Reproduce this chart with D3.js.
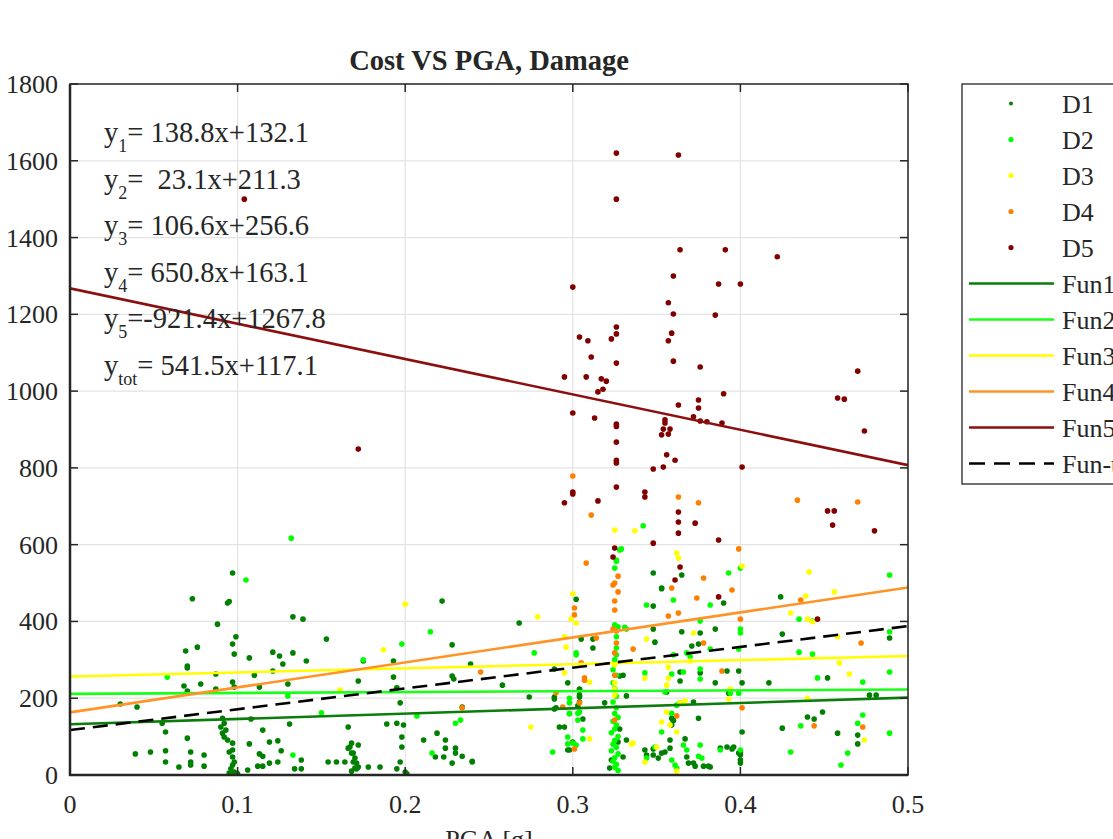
<!DOCTYPE html>
<html><head><meta charset="utf-8">
<script src="https://cdn.jsdelivr.net/npm/d3@7"></script>
<style>
html,body{margin:0;padding:0;background:#fff;}
svg{display:block;}
text{font-family:"Liberation Serif","Times New Roman",serif;fill:#262626;}
.pre{white-space:pre;}
</style></head>
<body>
<svg id="chart" width="1113" height="839"></svg>
<script>
// ---------- data ----------
const title = "Cost VS PGA, Damage";
const xLabel = "PGA [g]";
const xTicks = [0, 0.1, 0.2, 0.3, 0.4, 0.5];
const yTicks = [0, 200, 400, 600, 800, 1000, 1200, 1400, 1600, 1800];
const seriesNames = ["D1", "D2", "D3", "D4", "D5"];
const fitNames = ["Fun1", "Fun2", "Fun3", "Fun4", "Fun5", "Fun-tot"];
const fitSlopes = [138.8, 23.1, 106.6, 650.8, -921.4, 541.5];
const fitIntercepts = [132.1, 211.3, 256.6, 163.1, 1267.8, 117.1];
const eqSubs = ["1", "2", "3", "4", "5", "tot"];
const eqTexts = ["= 138.8x+132.1", "=  23.1x+211.3", "= 106.6x+256.6", "= 650.8x+163.1", "=-921.4x+1267.8", "= 541.5x+117.1"];

const D1 = [[0.097,526],[0.073,459],[0.094,448],[0.095,452],[0.088,393],[0.133,412],[0.139,406],[0.099,360],[0.153,354],[0.097,341],[0.069,323],[0.076,333],[0.098,315],[0.107,305],[0.121,320],[0.125,310],[0.127,289],[0.141,297],[0.070,284],[0.070,279],[0.087,263],[0.068,232],[0.078,237],[0.097,242],[0.098,229],[0.110,260],[0.121,271],[0.130,237],[0.113,229],[0.087,224],[0.070,219],[0.040,177],[0.030,185],[0.055,135],[0.057,112],
[0.091,148],[0.092,135],[0.090,125],[0.093,117],[0.091,109],[0.092,99],[0.094,91],[0.097,83],[0.097,65],[0.095,60],[0.097,47],[0.098,34],[0.097,26],[0.096,16],[0.098,8],[0.100,3],[0.095,5],
[0.108,146],[0.115,117],[0.107,81],[0.119,86],[0.124,89],[0.126,63],[0.113,55],[0.115,49],[0.119,31],[0.124,34],[0.112,23],[0.115,23],[0.106,13],[0.039,55],[0.048,60],[0.057,63],[0.057,34],[0.070,96],[0.072,60],[0.072,34],[0.072,26],[0.080,52],[0.080,23],[0.065,21],[0.138,39],[0.134,16],[0.138,16],
[0.154,34],[0.159,34],[0.164,34],[0.169,34],[0.169,57],[0.167,73],[0.168,83],[0.172,78],[0.170,18],[0.168,10],[0.172,245],[0.166,125],[0.166,70],[0.168,57],[0.170,44],[0.171,31],[0.172,21],[0.171,16],
[0.222,453],[0.228,339],[0.133,318],[0.175,297],[0.193,297],[0.193,255],[0.195,227],[0.239,289],[0.228,258],[0.229,250],[0.197,188],[0.234,177],[0.131,133],[0.189,133],[0.195,135],[0.199,130],[0.198,99],[0.198,73],[0.197,34],[0.195,16],[0.211,91],[0.219,109],[0.224,91],[0.230,70],[0.230,57],[0.234,49],[0.240,36],[0.224,70],[0.223,47],[0.218,47],[0.228,31],[0.185,21],[0.178,21],[0.200,8],[0.201,3],
[0.258,234],[0.268,396],[0.274,203],[0.240,34],[0.289,203],[0.290,175],[0.292,125],[0.297,65],[0.297,240],[0.302,458],[0.312,331],[0.304,221],[0.304,203],[0.303,180],[0.306,146],[0.289,276],[0.289,198],[0.289,172],[0.304,224],[0.304,208],[0.304,190],[0.295,125],[0.298,65],[0.300,86],[0.312,354],[0.305,354],[0.319,188],[0.328,258],[0.332,206],[0.332,91],[0.330,47],[0.327,86],[0.323,39],[0.322,18],[0.330,260],[0.328,120],
[0.348,440],[0.348,526],[0.353,485],[0.390,448],[0.424,464],[0.425,367],[0.365,373],[0.376,370],[0.385,380],[0.349,346],[0.371,336],[0.375,341],[0.489,357],[0.452,253],[0.417,240],[0.401,240],[0.385,240],[0.392,271],[0.399,271],[0.376,266],[0.364,245],[0.364,268],[0.356,216],[0.372,190],[0.393,213],[0.477,208],[0.481,208],[0.449,164],[0.440,151],[0.444,146],[0.425,122],[0.458,109],[0.470,104],[0.470,81],[0.375,148],[0.359,148],[0.360,141],[0.359,130],[0.358,91],[0.358,70],[0.367,94],[0.353,57],[0.351,44],[0.348,52],[0.343,65],[0.344,52],[0.369,31],[0.373,23],[0.381,23],[0.388,70],[0.392,73],[0.395,68],[0.399,57],[0.400,39],[0.400,31],[0.401,112],[0.400,60],[0.400,52],[0.396,73],[0.365,521],[0.353,487],[0.348,380],[0.364,188],[0.360,143],[0.348,68],[0.355,60],[0.368,47],[0.372,31],[0.378,23],[0.382,21]];

const D2 = [[0.132,617],[0.105,508],[0.058,255],[0.130,206],[0.133,52],[0.150,162],[0.175,300],[0.215,373],[0.198,341],[0.207,154],[0.216,57],[0.233,143],[0.230,135],[0.277,318],[0.288,60],[0.298,200],[0.298,161],[0.302,318],[0.303,161],[0.303,143],[0.300,83],[0.302,78],[0.306,117],[0.306,94],[0.297,99],[0.297,81],[0.302,313],[0.298,188],[0.304,164],[0.298,159],
[0.325,391],[0.327,386],[0.326,360],[0.326,331],[0.326,313],[0.325,300],[0.324,274],[0.326,260],[0.324,240],[0.325,225],[0.326,205],[0.324,190],[0.326,175],[0.325,160],[0.327,150],[0.324,140],[0.326,130],[0.325,120],[0.323,110],[0.327,100],[0.325,90],[0.324,80],[0.326,72],[0.323,63],[0.327,55],[0.325,45],[0.324,36],[0.326,28],[0.325,20],[0.327,12],[0.329,589],[0.325,539],[0.326,557],[0.342,649],[0.331,385],[0.344,443],[0.360,456],[0.382,443],[0.393,526],[0.400,539],[0.489,521],[0.435,406],[0.443,401],[0.400,380],[0.400,370],[0.435,320],[0.443,315],[0.489,373],[0.489,268],[0.446,253],[0.473,242],[0.473,156],[0.470,135],[0.436,128],[0.489,109],[0.430,60],[0.464,57],[0.460,26],[0.362,18],[0.332,380],[0.382,328],[0.399,328],[0.360,313],[0.368,318],[0.370,308],[0.376,276],[0.376,250],[0.359,263],[0.366,268],[0.343,266],[0.394,213],[0.399,213],[0.355,216],[0.362,182],[0.359,161],[0.353,112],[0.366,78],[0.368,65],[0.376,78],[0.377,44],[0.375,49],[0.388,65],[0.400,65],[0.344,44],[0.349,73],[0.359,39],[0.361,26],[0.376,401],[0.328,586],[0.326,560]];

const D3 = [[0.325,638],[0.337,636],[0.362,578],[0.363,565],[0.401,544],[0.441,529],[0.300,472],[0.279,412],[0.302,396],[0.299,406],[0.439,466],[0.456,477],[0.430,422],[0.443,399],[0.440,406],[0.458,360],[0.296,333],[0.344,354],[0.372,370],[0.325,287],[0.295,266],[0.310,242],[0.343,252],[0.356,234],[0.370,297],[0.459,292],[0.465,263],[0.325,208],[0.325,224],[0.394,224],[0.393,198],[0.367,193],[0.364,188],[0.440,200],[0.353,138],[0.358,130],[0.362,112],[0.275,125],[0.310,94],[0.335,81],[0.474,91],[0.343,34],[0.362,10],[0.350,73],[0.161,221],[0.200,445],[0.187,326],[0.295,360],[0.325,240],[0.336,83],[0.357,281],[0.357,252],[0.356,164]];

const D4 = [[0.300,779],[0.311,677],[0.308,552],[0.363,724],[0.375,709],[0.434,716],[0.470,711],[0.399,589],[0.325,500],[0.324,495],[0.327,477],[0.325,453],[0.325,430],[0.327,518],[0.301,435],[0.301,417],[0.359,487],[0.378,513],[0.395,482],[0.374,461],[0.357,414],[0.363,422],[0.324,380],[0.326,375],[0.314,357],[0.336,328],[0.378,344],[0.436,456],[0.472,344],[0.325,318],[0.245,268],[0.307,247],[0.325,260],[0.389,271],[0.304,188],[0.401,175],[0.362,154],[0.325,143],[0.444,128],[0.473,125],[0.301,68],[0.290,214],[0.234,175],[0.326,344],[0.305,292],[0.307,253],[0.294,177],[0.400,406]];

const D5 = [[0.326,1620],[0.363,1615],[0.326,1500],[0.364,1368],[0.391,1368],[0.422,1350],[0.300,1271],[0.360,1300],[0.387,1279],[0.400,1279],[0.357,1230],[0.360,1201],[0.385,1198],[0.326,1167],[0.326,1149],[0.323,1136],[0.304,1141],[0.309,1131],[0.359,1151],[0.357,1131],[0.311,1089],[0.326,1073],[0.360,1078],[0.376,1063],[0.470,1052],[0.295,1037],[0.308,1037],[0.317,1032],[0.104,1500],[0.172,849],
[0.320,1026],[0.318,1005],[0.315,998],[0.300,943],[0.313,930],[0.326,914],[0.326,908],[0.326,867],[0.326,820],[0.326,813],[0.363,964],[0.375,977],[0.375,956],[0.390,993],[0.355,925],[0.355,917],[0.354,901],[0.358,901],[0.353,886],[0.357,888],[0.372,933],[0.376,922],[0.380,920],[0.389,917],[0.356,834],[0.361,820],[0.348,797],[0.354,802],[0.401,802],[0.458,982],[0.462,979],[0.474,896],[0.300,732],[0.300,737],[0.295,709],[0.315,714],[0.326,750],[0.343,737],[0.343,724],[0.363,685],[0.363,659],[0.363,630],[0.373,656],[0.348,604],[0.387,612],[0.325,591],[0.324,568],[0.364,542],[0.361,508],[0.387,464],[0.452,688],[0.456,688],[0.455,651],[0.480,636],[0.446,406]];

const seriesData = [D1, D2, D3, D4, D5];
const colors = ["#008000", "#00ff00", "#ffff00", "#ff8000", "#800000", "#000000"];
const lineColors = ["#0a7d0a", "#1aff1a", "#ffff00", "#ff9326", "#8c0f0f", "#000000"];

// ---------- layout ----------
const svg = d3.select("#chart");
const L = 70, R = 908, T = 84, B = 775;
const x = d3.scaleLinear().domain([0, 0.5]).range([L, R]);
const y = d3.scaleLinear().domain([0, 1800]).range([B, T]);
const FS = 26;

// grid
const g = svg.append("g");
g.selectAll(".gx").data(xTicks).enter().append("line")
  .attr("x1", d => x(d)).attr("x2", d => x(d)).attr("y1", T).attr("y2", B)
  .attr("stroke", "#e3e3e3").attr("stroke-width", 1.2);
g.selectAll(".gy").data(yTicks).enter().append("line")
  .attr("x1", L).attr("x2", R).attr("y1", d => y(d)).attr("y2", d => y(d))
  .attr("stroke", "#e3e3e3").attr("stroke-width", 1.2);

// points
svg.append("clipPath").attr("id", "clip").append("rect")
  .attr("x", L).attr("y", T).attr("width", R - L).attr("height", B - T);
const pg = svg.append("g").attr("clip-path", "url(#clip)");
seriesData.forEach((arr, i) => {
  pg.append("g").selectAll("circle").data(arr).enter().append("circle")
    .attr("cx", d => x(d[0])).attr("cy", d => y(d[1]))
    .attr("r", 2.8).attr("fill", colors[i]);
});

// fit lines
const lineGen = d3.line().x(d => x(d[0])).y(d => y(d[1]));
fitSlopes.forEach((m, i) => {
  const pts = [0, 0.5].map(v => [v, m * v + fitIntercepts[i]]);
  const p = pg.append("path").attr("d", lineGen(pts)).attr("fill", "none")
    .attr("stroke", lineColors[i]).attr("stroke-width", 2.6);
  if (i === 5) p.attr("stroke-dasharray", "15,8");
});

// axes box
const axg = svg.append("g");
axg.append("rect").attr("x", L).attr("y", T).attr("width", R - L).attr("height", B - T)
  .attr("fill", "none").attr("stroke", "#262626").attr("stroke-width", 1.5);
axg.append("line").attr("x1", L).attr("x2", L).attr("y1", T).attr("y2", B + 1).attr("stroke", "#262626").attr("stroke-width", 2.5);
axg.append("line").attr("x1", L - 1).attr("x2", R).attr("y1", B).attr("y2", B).attr("stroke", "#262626").attr("stroke-width", 2.5);

// ticks inside
const tl = 8;
xTicks.forEach(t => {
  axg.append("line").attr("x1", x(t)).attr("x2", x(t)).attr("y1", B).attr("y2", B - tl).attr("stroke", "#262626").attr("stroke-width", 1.5);
  axg.append("line").attr("x1", x(t)).attr("x2", x(t)).attr("y1", T).attr("y2", T + tl).attr("stroke", "#262626").attr("stroke-width", 1.5);
});
yTicks.forEach(t => {
  axg.append("line").attr("x1", L).attr("x2", L + tl).attr("y1", y(t)).attr("y2", y(t)).attr("stroke", "#262626").attr("stroke-width", 1.5);
  axg.append("line").attr("x1", R).attr("x2", R - tl).attr("y1", y(t)).attr("y2", y(t)).attr("stroke", "#262626").attr("stroke-width", 1.5);
});

// tick labels
svg.append("g").selectAll("text").data(xTicks).enter().append("text")
  .attr("x", d => x(d)).attr("y", B + 38).attr("text-anchor", "middle")
  .attr("font-size", FS).text(d => d3.format("")(d));
svg.append("g").selectAll("text").data(yTicks).enter().append("text")
  .attr("x", L - 12).attr("y", d => y(d) + 9).attr("text-anchor", "end")
  .attr("font-size", FS).text(d => d);

// title, x label
svg.append("text").attr("x", (L + R) / 2).attr("y", 70).attr("text-anchor", "middle")
  .attr("font-size", 28.5).attr("font-weight", "bold").attr("fill", "#000").text(title);
svg.append("text").attr("x", (L + R) / 2).attr("y", 848).attr("text-anchor", "middle")
  .attr("font-size", FS).text(xLabel);

// equations
eqTexts.forEach((t, i) => {
  const tx = svg.append("text").attr("class", "pre").attr("x", 104).attr("y", 142 + i * 46.6)
    .attr("font-size", 28.5).attr("fill", "#222");
  tx.append("tspan").text("y");
  tx.append("tspan").attr("dy", 10).attr("font-size", 18).text(eqSubs[i]);
  tx.append("tspan").attr("dy", -10).text(t);
});

// legend
const lg = svg.append("g");
lg.append("rect").attr("x", 962).attr("y", 84).attr("width", 200).attr("height", 400)
  .attr("fill", "#fff").attr("stroke", "#262626").attr("stroke-width", 1.3);
const labels = seriesNames.concat(fitNames);
labels.forEach((lab, i) => {
  const cy = 103.5 + i * 36;
  if (i < 5) {
    lg.append("circle").attr("cx", 1011).attr("cy", cy).attr("r", i === 0 ? 2 : 2.6).attr("fill", colors[i]);
  } else {
    const j = i - 5;
    const ln = lg.append("line").attr("x1", 969).attr("x2", 1054).attr("y1", cy).attr("y2", cy)
      .attr("stroke", lineColors[j]).attr("stroke-width", 2.6);
    if (j === 5) ln.attr("stroke-dasharray", "16,9");
  }
  lg.append("text").attr("x", 1062).attr("y", cy + 9).attr("font-size", FS).text(lab);
});
</script>
</body></html>
